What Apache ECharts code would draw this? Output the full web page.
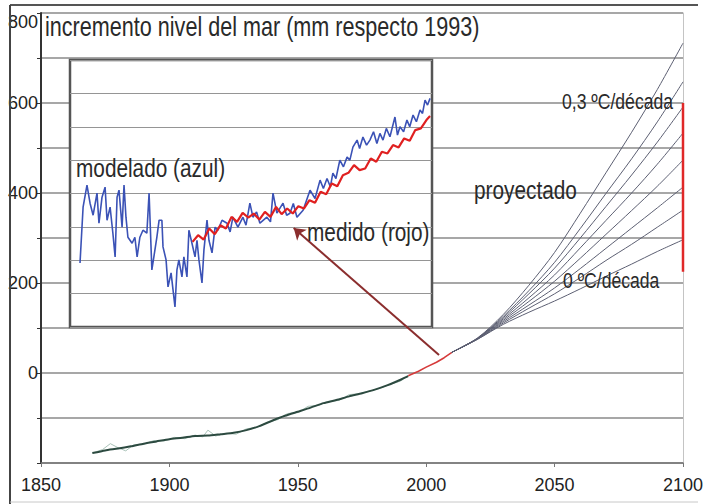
<!DOCTYPE html>
<html><head><meta charset="utf-8">
<script src="https://cdn.jsdelivr.net/npm/echarts@6/dist/echarts.min.js"></script>
<style>html,body{margin:0;padding:0;background:#fff}#c{width:707px;height:504px}</style>
</head><body><div id="c"></div>
<script>
// ---- main axis ticks ----
const xTicks = [1850, 1900, 1950, 2000, 2050, 2100];
const yLabels = [0, 200, 400, 600, 800];

// ---- historic sea level (mm), smoothed ----
const histYears = [1870,1875,1880,1885,1890,1895,1900,1905,1910,1915,1920,1925,1930,1935,1940,1945,1950,1955,1960,1965,1970,1975,1980,1985,1990,1993];
const histVals  = [-178,-172,-168,-163,-157,-152,-147,-144,-140,-139,-136,-133,-127,-118,-106,-95,-86,-77,-67,-60,-52,-45,-37,-27,-15,-7];

// ---- historic annual (thin, lighter) ----
const rawYears = [1870,1874,1877,1880,1883,1886,1890,1894,1898,1902,1906,1910,1913,1915,1918,1922,1926,1930,1934,1938,1942,1946,1950,1954,1958,1962,1966,1970,1974,1978,1982,1986,1990,1993];
const rawVals  = [-178,-170,-157,-166,-173,-160,-158,-150,-151,-143,-146,-138,-142,-127,-140,-134,-136,-124,-121,-110,-104,-90,-88,-74,-72,-63,-61,-48,-46,-40,-34,-25,-18,-6];

// ---- recent measured (red) ----
const recentYears = [1993,1997,2000,2004,2007,2010];
const recentVals  = [-6,4,13,24,34,46];

// ---- projections 2010-2100 (0 ... 0.3 ºC/década) ----
const projYears = [2010,2020,2030,2040,2050,2060,2070,2080,2090,2100];
const proj1 = [46,78,130,195,268,355,445,535,630,733];
const proj2 = [46,77,126,183,246,321,399,476,558,647];
const proj3 = [46,77,123,176,233,300,370,440,513,591];
const proj4 = [46,77,120,167,218,278,339,400,464,533];
const proj5 = [46,76,117,159,204,255,308,361,415,473];
const proj6 = [46,76,114,151,189,232,277,322,367,413];
const proj7 = [46,75,111,144,176,212,250,286,324,362];
const proj8 = [46,75,108,135,160,187,215,242,270,296];
const projLines = [proj1,proj2,proj3,proj4,proj5,proj6,proj7,proj8];

// ---- range bar at 2100 ----
const rangeYear = 2100;
const rangeVals = [225, 600];

// ---- inset: modelled (blue) and measured (red) ----
const insetBlue = [[1873.6,1.92],[1874.7,3.59],[1876.1,4.25],[1877.2,3.71],[1878.3,3.35],[1879.7,4.01],[1880.4,3.11],[1881.5,3.89],[1882.6,4.19],[1883.3,3.20],
[1884.4,3.59],[1885.4,2.81],[1886.2,2.10],[1886.9,3.89],[1887.6,4.10],[1888.7,2.99],[1889.4,4.25],[1890.1,3.29],[1890.8,2.69],[1892.3,2.51],
[1893.3,2.69],[1894.1,2.10],[1895.1,2.69],[1896.2,2.90],[1897.6,2.81],[1898.4,4.01],[1899.4,1.71],[1900.5,2.31],[1901.2,2.69],[1902.0,3.20],
[1903.0,3.20],[1903.4,2.40],[1904.5,2.01],[1905.2,1.20],[1906.3,1.62],[1907.0,1.11],[1907.7,0.60],[1908.4,1.71],[1909.1,2.01],[1910.2,1.50],
[1910.9,2.10],[1912.0,1.50],[1912.7,2.90],[1913.8,2.51],[1914.9,2.10],[1915.6,2.60],[1916.3,2.01],[1917.4,1.32],[1918.1,2.31],[1919.2,3.20],
[1919.9,2.60],[1921.0,2.22],[1922.1,2.99],[1923.1,2.90],[1924.6,3.20],[1926.4,3.11],[1927.5,2.85],[1928.5,3.29],[1930.3,2.99],[1932.1,3.29],[1933.2,3.05],[1934.6,3.71],
[1935.7,3.29],[1937.0,3.45],[1938.2,3.11],[1940.7,3.29],[1942.0,3.15],[1942.9,4.01],[1944.3,3.41],[1946.5,3.71],[1947.8,3.35],[1949.0,3.41],[1950.2,3.70],[1951.5,3.29],[1953.7,3.50],
[1956.2,4.10],[1958.0,3.85],[1959.8,4.40],[1961.0,4.15],[1962.3,4.45],[1963.5,4.20],[1964.4,4.61],[1965.5,4.45],[1966.9,5.00],[1968.2,4.80],
[1969.5,5.09],[1970.5,5.00],[1971.6,5.39],[1973.1,5.60],[1974.0,5.35],[1975.2,5.69],[1976.5,5.45],[1977.7,5.60],[1979.0,5.85],[1980.2,5.50],
[1981.3,5.80],[1982.4,5.60],[1983.6,5.95],[1984.9,5.70],[1986.7,6.29],[1987.6,5.75],[1988.5,6.00],[1989.8,5.85],[1991.0,6.20],[1992.0,6.00],
[1993.2,6.35],[1994.4,6.15],[1995.7,6.50],[1996.6,6.40],[1997.5,6.80],[1998.4,6.65],[1999.3,6.85]];
const insetRed = [[1914,2.55],[1916,2.75],[1918,2.62],[1920,2.95],[1922,2.78],[1924,3.05],[1926,2.95],[1928,3.30],[1930,3.15],[1932,3.42],
[1934,3.28],[1936,3.40],[1938,3.22],[1940,3.45],[1942,3.30],[1944,3.60],[1946,3.38],[1948,3.55],[1950,3.40],[1952,3.62],
[1954,3.55],[1956,3.80],[1958,3.72],[1960,4.05],[1962,3.98],[1964,4.30],[1966,4.22],[1968,4.55],[1970,4.62],[1972,4.85],
[1974,4.70],[1976,4.75],[1978,5.05],[1980,4.95],[1982,5.25],[1984,5.20],[1986,5.45],[1988,5.38],[1990,5.65],[1992,5.58],
[1994,5.90],[1996,5.95],[1998,6.20],[1999.3,6.32]];

// ---- arrow annotation (main axes coords) ----
const arrowFrom = [2005, 40];
const arrowTo = [1948.4, 322];

const zip = (a, b) => a.map((v, i) => [v, b[i]]);
const AX = "'Liberation Sans',Arial,sans-serif";
const TX = "'Liberation Sans',Arial,sans-serif";

const series = [
  {type:'line', xAxisIndex:0, yAxisIndex:0, data: zip(rawYears, rawVals), showSymbol:false, lineStyle:{color:'#a9c2b8', width:1}, z:1},
  {type:'line', xAxisIndex:0, yAxisIndex:0, data: zip(histYears, histVals), showSymbol:false, smooth:0.2, lineStyle:{color:'#2c4a40', width:2}, z:2},
  {type:'line', xAxisIndex:0, yAxisIndex:0, data: zip(recentYears, recentVals), showSymbol:false, lineStyle:{color:'#d63a3a', width:1.6}, z:2}
];
projLines.forEach(p => series.push({type:'line', xAxisIndex:0, yAxisIndex:0, data: zip(projYears, p), showSymbol:false, smooth:0.3, lineStyle:{color:'#5c5f72', width:1}, z:2}));
series.push({type:'line', xAxisIndex:0, yAxisIndex:0, data: rangeVals.map(v => [rangeYear, v]), showSymbol:false, clip:false, lineStyle:{color:'#e02828', width:2.5}, z:2});
series.push({type:'line', xAxisIndex:1, yAxisIndex:2, data: insetBlue, showSymbol:false, lineStyle:{color:'#3b52b6', width:1.6}, z:5});
series.push({type:'line', xAxisIndex:1, yAxisIndex:2, data: insetRed, showSymbol:false, lineStyle:{color:'#e02020', width:2.2}, z:6});
series.push({type:'lines', coordinateSystem:'cartesian2d', xAxisIndex:0, yAxisIndex:0, data:[{coords:[arrowFrom, arrowTo]}], symbol:['none','arrow'], symbolSize:11, lineStyle:{color:'#8b2e2e', width:2, opacity:1}, z:7});

const txt = (s, x, y, size, sx) => ({type:'text', x:x, y:y, scaleX:sx, z:10, style:{text:s, fontSize:size, fontFamily:TX, fill:'#2a2a2a', textAlign:'left', textVerticalAlign:'middle'}});

const option = {
  animation:false,
  backgroundColor:'#fff',
  grid:[
    {left:41, right:24, top:13, bottom:41, show:false, outerBoundsMode:'none', containLabel:false},
    {left:70, top:60, width:362, height:267, show:true, outerBoundsMode:'none', backgroundColor:'#fff', borderColor:'#555', borderWidth:2.5, z:3}
  ],
  xAxis:[
    {gridIndex:0, type:'value', min:1850, max:2100, interval:50,
     axisLine:{show:true, onZero:false, lineStyle:{color:'#777', width:1.5}},
     axisTick:{show:true, length:4, lineStyle:{color:'#777'}},
     axisLabel:{fontSize:18, fontFamily:AX, color:'#222', margin:13, formatter: v => xTicks.includes(v) ? String(v) : ''},
     splitLine:{show:false}},
    {gridIndex:1, type:'value', min:1870, max:2000, show:false}
  ],
  yAxis:[
    {gridIndex:0, type:'value', min:-200, max:800, interval:100,
     axisLine:{show:true, lineStyle:{color:'#333', width:2}},
     axisTick:{show:true, length:4, lineStyle:{color:'#333'}},
     axisLabel:{fontSize:18, fontFamily:AX, color:'#222', margin:3, verticalAlignMaxLabel:'top',
       formatter: v => yLabels.includes(v) ? String(v) : ''},
     splitLine:{show:true, lineStyle:{color:'#8a8a8a', width:1.5}}},
    {gridIndex:0, type:'value', position:'right', min:-200, max:800, interval:100,
     axisLine:{show:true, lineStyle:{color:'#c4c4c4', width:1}}, axisTick:{show:false}, axisLabel:{show:false}, splitLine:{show:false}},
    {gridIndex:1, type:'value', min:0, max:8, interval:1, z:4,
     axisLine:{show:false}, axisTick:{show:false}, axisLabel:{show:false},
     splitLine:{show:true, lineStyle:{color:'#959595', width:1}}}
  ],
  series: series,
  graphic:[
    {type:'line', z:10, shape:{x1:10, y1:5, x2:698, y2:5}, style:{stroke:'#555', lineWidth:2}},
    {type:'line', z:10, shape:{x1:10, y1:5, x2:10, y2:504}, style:{stroke:'#444', lineWidth:2}},
    {type:'line', z:10, shape:{x1:10, y1:502, x2:698, y2:502}, style:{stroke:'#c8c8c8', lineWidth:1}},
    txt('incremento nivel del mar (mm respecto 1993)', 45, 27, 27, 0.8),
    txt('modelado (azul)', 76, 168, 26, 0.8),
    txt('medido (rojo)', 307, 232, 26, 0.8),
    txt('proyectado', 474, 190, 26, 0.8),
    txt('0,3 ºC/década', 562, 101, 22, 0.8),
    txt('0 ºC/década', 563, 280, 22, 0.8)
  ]
};
const chart = echarts.init(document.getElementById('c'), null, {renderer:'svg'});
chart.setOption(option);
</script></body></html>
